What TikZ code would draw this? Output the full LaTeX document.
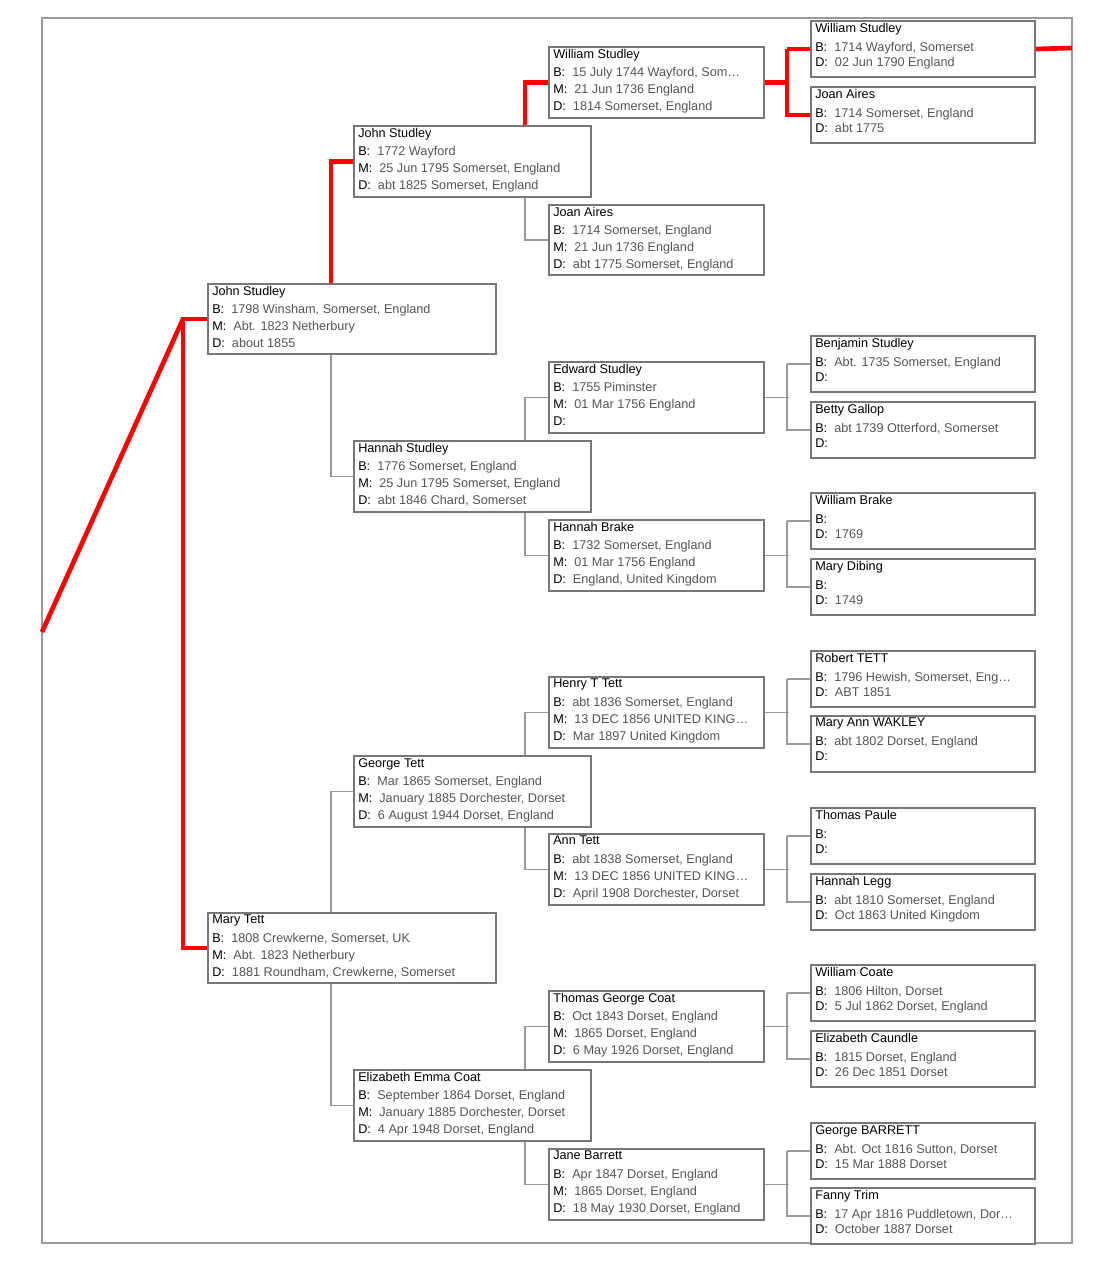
\documentclass[tikz,border=0pt]{standalone}
\usepackage{fontspec}
\setmainfont{Liberation Sans}
\usetikzlibrary{calc}
\definecolor{boxgray}{HTML}{777777}
\definecolor{valgray}{HTML}{555555}
\definecolor{linegray}{HTML}{999999}
\definecolor{linered}{HTML}{FF0000}
\newcommand\lB{\textcolor{black}{B:}\ \ }
\newcommand\lM{\textcolor{black}{M:}\ \ }
\newcommand\lD{\textcolor{black}{D:}\ \ }
% box with a name line and the dates below it
\newcommand\person[7]{%
  \node[pbox, minimum width=#4*0.75pt, minimum height=#5*0.75pt, anchor=north west] (#1) at (#2,#3) {};
  \node[ptext, #6, anchor=north west] at ($(#1.north west)+(5,3)$) {#7};}
% father / mother bracket of one child
\newcommand\parents[4]{%
  \draw[#4] (#1.east) -- ++(24,0);
  \draw[#4] ($(#2.west)+(-23,0)$) -- (#2.west);
  \draw[#4] ($(#2.west)+(-23,0)$) |- (#3.west);}
\begin{document}
\begin{tikzpicture}[x=0.75pt, y=-0.75pt,
    pbox/.style={draw=boxgray, line width=1.5pt, fill=white, inner sep=0pt},
    ptext/.style={inner sep=0pt, align=left, text=valgray, font=\fontsize{9.5}{12.75}\selectfont},
    tight/.style={font=\fontsize{9.5}{11.25}\selectfont},
    conn/.style={draw=linegray, line width=1.2pt},
    redl/.style={draw=linered, line width=3.5pt}]
\useasboundingbox (0,0) rectangle (1115,1263);
\draw[linegray, line width=1pt] (42,18) rectangle (1072,1243);
\coordinate (root) at (42,632);
\coordinate (edge) at (1072,48);
%
\person{js1}{207}{283}{288}{70}{}{\textcolor{black}{John Studley}\\[1pt]\lB1798 Winsham, Somerset, England\\\lM Abt. 1823 Netherbury\\\lD about 1855}
\person{mt1}{207}{912}{288}{70}{}{\textcolor{black}{Mary Tett}\\[1pt]\lB1808 Crewkerne, Somerset, UK\\\lM Abt. 1823 Netherbury\\\lD 1881 Roundham, Crewkerne, Somerset}
%
\person{js2}{353}{125}{237}{71}{}{\textcolor{black}{John Studley}\\[1pt]\lB1772 Wayford\\\lM 25 Jun 1795 Somerset, England\\\lD abt 1825 Somerset, England}
\person{hs2}{353}{440}{237}{71}{}{\textcolor{black}{Hannah Studley}\\[1pt]\lB1776 Somerset, England\\\lM 25 Jun 1795 Somerset, England\\\lD abt 1846 Chard, Somerset}
\person{gt2}{353}{755}{237}{71}{}{\textcolor{black}{George Tett}\\[1pt]\lB Mar 1865 Somerset, England\\\lM January 1885 Dorchester, Dorset\\\lD 6 August 1944 Dorset, England}
\person{ec2}{353}{1069}{237}{71}{}{\textcolor{black}{Elizabeth Emma Coat}\\[1pt]\lB September 1864 Dorset, England\\\lM January 1885 Dorchester, Dorset\\\lD 4 Apr 1948 Dorset, England}
%
\person{ws3}{548}{46}{215}{71}{}{\textcolor{black}{William Studley}\\[1pt]\lB15 July 1744 Wayford, Som…\\\lM 21 Jun 1736 England\\\lD 1814 Somerset, England}
\person{ja3}{548}{204}{215}{70}{}{\textcolor{black}{Joan Aires}\\[1pt]\lB1714 Somerset, England\\\lM 21 Jun 1736 England\\\lD abt 1775 Somerset, England}
\person{es3}{548}{361}{215}{71}{}{\textcolor{black}{Edward Studley}\\[1pt]\lB1755 Piminster\\\lM 01 Mar 1756 England\\\lD}
\person{hb3}{548}{519}{215}{71}{}{\textcolor{black}{Hannah Brake}\\[1pt]\lB1732 Somerset, England\\\lM 01 Mar 1756 England\\\lD England, United Kingdom}
\person{ht3}{548}{676}{215}{71}{}{\textcolor{black}{Henry T Tett}\\[1pt]\lB abt 1836 Somerset, England\\\lM 13 DEC 1856 UNITED KING…\\\lD Mar 1897 United Kingdom}
\person{at3}{548}{833}{215}{71}{}{\textcolor{black}{Ann Tett}\\[1pt]\lB abt 1838 Somerset, England\\\lM 13 DEC 1856 UNITED KING…\\\lD April 1908 Dorchester, Dorset}
\person{tc3}{548}{990}{215}{71}{}{\textcolor{black}{Thomas George Coat}\\[1pt]\lB Oct 1843 Dorset, England\\\lM 1865 Dorset, England\\\lD 6 May 1926 Dorset, England}
\person{jb3}{548}{1148}{215}{71}{}{\textcolor{black}{Jane Barrett}\\[1pt]\lB Apr 1847 Dorset, England\\\lM 1865 Dorset, England\\\lD 18 May 1930 Dorset, England}
%
\person{ws4}{810}{20}{224}{56}{tight}{\textcolor{black}{William Studley}\\[3pt]\lB1714 Wayford, Somerset\\\lD 02 Jun 1790 England}
\person{ja4}{810}{86}{224}{56}{tight}{\textcolor{black}{Joan Aires}\\[3pt]\lB1714 Somerset, England\\\lD abt 1775}
\person{bs4}{810}{335}{224}{56}{tight}{\textcolor{black}{Benjamin Studley}\\[3pt]\lB Abt. 1735 Somerset, England\\\lD}
\person{bg4}{810}{401}{224}{56}{tight}{\textcolor{black}{Betty Gallop}\\[3pt]\lB abt 1739 Otterford, Somerset\\\lD}
\person{wb4}{810}{492}{224}{56}{tight}{\textcolor{black}{William Brake}\\[3pt]\lB\\\lD 1769}
\person{md4}{810}{558}{224}{56}{tight}{\textcolor{black}{Mary Dibing}\\[3pt]\lB\\\lD 1749}
\person{rt4}{810}{650}{224}{56}{tight}{\textcolor{black}{Robert TETT}\\[3pt]\lB1796 Hewish, Somerset, Eng…\\\lD ABT 1851}
\person{mw4}{810}{715}{224}{56}{tight}{\textcolor{black}{Mary Ann WAKLEY}\\[3pt]\lB abt 1802 Dorset, England\\\lD}
\person{tp4}{810}{807}{224}{56}{tight}{\textcolor{black}{Thomas Paule}\\[3pt]\lB\\\lD}
\person{hl4}{810}{873}{224}{56}{tight}{\textcolor{black}{Hannah Legg}\\[3pt]\lB abt 1810 Somerset, England\\\lD Oct 1863 United Kingdom}
\person{wc4}{810}{964}{224}{56}{tight}{\textcolor{black}{William Coate}\\[3pt]\lB1806 Hilton, Dorset\\\lD 5 Jul 1862 Dorset, England}
\person{ek4}{810}{1030}{224}{56}{tight}{\textcolor{black}{Elizabeth Caundle}\\[3pt]\lB1815 Dorset, England\\\lD 26 Dec 1851 Dorset}
\person{gb4}{810}{1122}{224}{56}{tight}{\textcolor{black}{George BARRETT}\\[3pt]\lB Abt. Oct 1816 Sutton, Dorset\\\lD 15 Mar 1888 Dorset}
\person{ft4}{810}{1187}{224}{56}{tight}{\textcolor{black}{Fanny Trim}\\[3pt]\lB17 Apr 1816 Puddletown, Dor…\\\lD October 1887 Dorset}
%
\draw[redl] (root) -- ($(js1.west)+(-24,0)$);
\draw[redl] (js1.west) -- ++(-24,0) |- (mt1.west);
\draw[redl] ($(js1.north west)+(124,0)$) |- (js2.west);
\draw[conn] ($(js1.south west)+(124,0)$) |- (hs2.west);
\draw[conn] ($(mt1.north west)+(124,0)$) |- (gt2.west);
\draw[conn] ($(mt1.south west)+(124,0)$) |- (ec2.west);
\draw[redl] ($(js2.north west)+(172,0)$) |- (ws3.west);
\draw[conn] ($(js2.south west)+(172,0)$) |- (ja3.west);
\draw[conn] ($(hs2.north west)+(172,0)$) |- (es3.west);
\draw[conn] ($(hs2.south west)+(172,0)$) |- (hb3.west);
\draw[conn] ($(gt2.north west)+(172,0)$) |- (ht3.west);
\draw[conn] ($(gt2.south west)+(172,0)$) |- (at3.west);
\draw[conn] ($(ec2.north west)+(172,0)$) |- (tc3.west);
\draw[conn] ($(ec2.south west)+(172,0)$) |- (jb3.west);
\parents{ws3}{ws4}{ja4}{redl}
\parents{es3}{bs4}{bg4}{conn}
\parents{hb3}{wb4}{md4}{conn}
\parents{ht3}{rt4}{mw4}{conn}
\parents{at3}{tp4}{hl4}{conn}
\parents{tc3}{wc4}{ek4}{conn}
\parents{jb3}{gb4}{ft4}{conn}
\draw[redl] (ws4.east) -- (edge);
\end{tikzpicture}
\end{document}
